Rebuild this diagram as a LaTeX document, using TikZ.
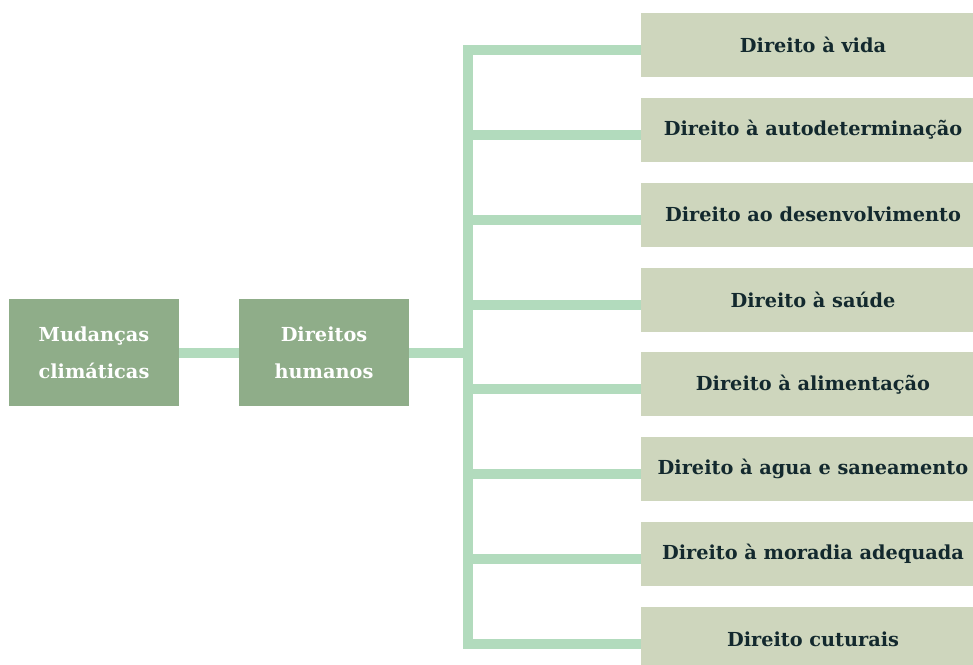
\documentclass[tikz,border=0pt]{standalone}
\usepackage{fontspec}
\setmainfont{DejaVu Serif}
\usetikzlibrary{positioning}

\definecolor{darkbox}{HTML}{8FAD89}
\definecolor{lightbox}{HTML}{CED6BD}
\definecolor{branchline}{HTML}{B2DBBD}
\definecolor{darktext}{HTML}{13292E}

\tikzset{
  topic/.style={fill=darkbox, text=white, minimum width=170pt, minimum height=107pt,
    align=center, inner sep=0pt, font=\bfseries\fontsize{19.3}{37}\selectfont},
  right/.style={fill=lightbox, text=darktext, minimum width=344pt, minimum height=64pt,
    inner sep=0pt, font=\bfseries\fontsize{19.3}{22}\selectfont},
  branch/.style={draw=branchline, line width=10pt, line join=miter}
}

\begin{document}
\begin{tikzpicture}[x=1pt,y=-1pt,node distance=84.86pt,on grid]
  \useasboundingbox (0,0) rectangle (973,664);

  \node[topic] (m_0) at (94,352.5) {Mudanças\\climáticas};
  \node[topic] (d_0) at (324,352.5) {Direitos\\humanos};

  \node[right] (r_1) at (813,45) {Direito à vida};
  \node[right] (r_2) [below=of r_1] {Direito à autodeterminação};
  \node[right] (r_3) [below=of r_2] {Direito ao desenvolvimento};
  \node[right] (r_4) [below=of r_3] {Direito à saúde};
  \node[right] (r_5) [below=of r_4] {Direito à alimentação};
  \node[right] (r_6) [below=of r_5] {Direito à agua e saneamento};
  \node[right] (r_7) [below=of r_6] {Direito à moradia adequada};
  \node[right] (r_8) [below=of r_7] {Direito cuturais};

  % bus line and branch points
  \coordinate (bus) at (467.5,0);
  \coordinate[below=5pt of r_1.west] (j_1);
  \coordinate[below=5pt of r_2.west] (j_2);
  \coordinate[below=5pt of r_3.west] (j_3);
  \coordinate[below=5pt of r_4.west] (j_4);
  \coordinate[below=5pt of r_5.west] (j_5);
  \coordinate[below=5pt of r_6.west] (j_6);
  \coordinate[below=5pt of r_7.west] (j_7);
  \coordinate[below=5pt of r_8.west] (j_8);

  \draw[branch] (m_0.east) -- (d_0.west |- m_0.east);
  \draw[branch] (d_0.east) -- (d_0.east -| bus);
  \draw[branch] (j_1) -- (j_1 -| bus) -- (j_8 -| bus) -- (j_8);
  \draw[branch] (j_2 -| bus) -- (j_2);
  \draw[branch] (j_3 -| bus) -- (j_3);
  \draw[branch] (j_4 -| bus) -- (j_4);
  \draw[branch] (j_5 -| bus) -- (j_5);
  \draw[branch] (j_6 -| bus) -- (j_6);
  \draw[branch] (j_7 -| bus) -- (j_7);
\end{tikzpicture}
\end{document}
